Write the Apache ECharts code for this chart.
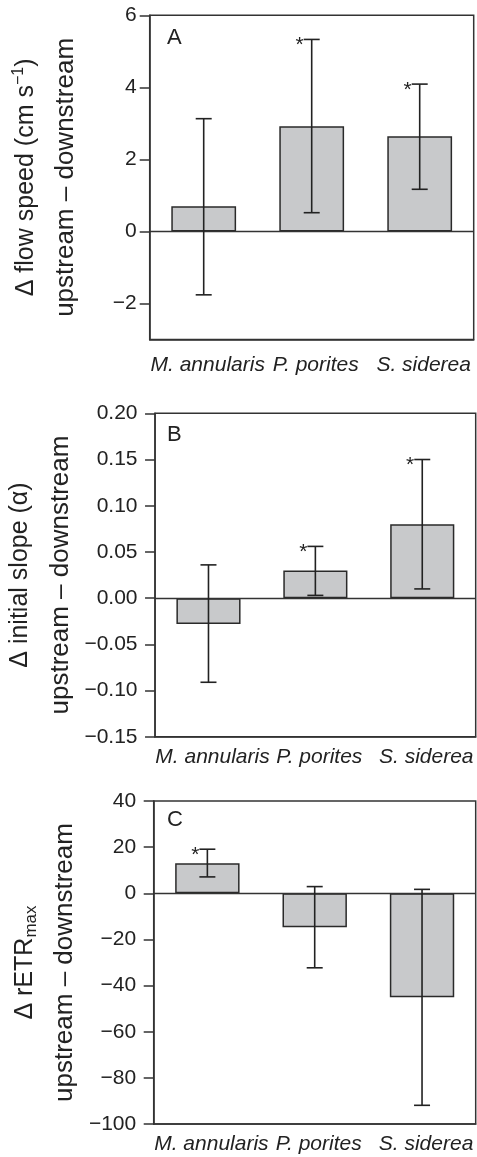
<!DOCTYPE html>
<html>
<head>
<meta charset="utf-8">
<script src="https://cdn.jsdelivr.net/npm/echarts@6/dist/echarts.min.js"></script>
<style>
  html, body { margin: 0; padding: 0; background: #fff; }
  #chart { width: 477px; height: 1157px; }
</style>
</head>
<body>
<div id="chart"></div>
<script>
// ---- Data ----
const categories = ['M. annularis', 'P. porites', 'S. siderea'];

// Panel A: flow speed difference
const flowMean = [0.70, 2.92, 2.64];
const flowLow  = [-1.76, 0.52, 1.17];
const flowHigh = [3.13, 5.33, 4.09];
const flowSig  = [0, 1, 1];
const flowTicks = [-2, 0, 2, 4, 6];

// Panel B: initial slope difference
const slopeMean = [-0.028, 0.030, 0.080];
const slopeLow  = [-0.091, 0.003, 0.010];
const slopeHigh = [0.036, 0.056, 0.150];
const slopeSig  = [0, 1, 1];
const slopeTicks = [-0.15, -0.10, -0.05, 0, 0.05, 0.10, 0.15, 0.20];

// Panel C: rETRmax difference
const etrMean = [13.0, -14.7, -45.1];
const etrLow  = [7.1, -32.3, -91.9];
const etrHigh = [19.1, 2.9, 1.7];
const etrSig  = [1, 0, 0];
const etrTicks = [-100, -80, -60, -40, -20, 0, 20, 40];

const panelLetters = ['A', 'B', 'C'];
const yNames = [
  '{t|Δ flow speed (cm s}{sup|−1}{t|)}\n{u|upstream – downstream}',
  '{t|Δ initial slope (α)}\n{u|upstream – downstream}',
  '{t|Δ rETR}{sub|max}\n{u|upstream – downstream}'
];

// ---- Styling / layout ----
const FONT = "'Liberation Sans', Arial, Helvetica, sans-serif";
const INK = '#222';
const AXIS = '#333';
const panels = [
  { mean: flowMean, low: flowLow, high: flowHigh, sig: flowSig, ticks: flowTicks, min: -3, max: 6, dec: 0,
    grid: { left: 149.7, top: 15.3, width: 324, height: 324.2 }, labelMargin: 13, nameGap: 64, xMargin: 15, letterY: 27 },
  { mean: slopeMean, low: slopeLow, high: slopeHigh, sig: slopeSig, ticks: slopeTicks, min: -0.15, max: 0.20, dec: 2,
    grid: { left: 153.7, top: 413.3, width: 322, height: 323.5 }, labelMargin: 17.5, nameGap: 68, xMargin: 10, letterY: 424 },
  { mean: etrMean, low: etrLow, high: etrHigh, sig: etrSig, ticks: etrTicks, min: -100, max: 40, dec: 0,
    grid: { left: 153.7, top: 801, width: 322, height: 323 }, labelMargin: 17.5, nameGap: 68, xMargin: 10, letterY: 809 }
];

function fmt(v, dec) {
  const s = Math.abs(v).toFixed(dec);
  return (v < -1e-9 ? '−' : '') + s;
}

function renderErr(params, api) {
  const c = api.value(0);
  const lo = api.coord([c, api.value(1)]);
  const hi = api.coord([c, api.value(2)]);
  const cap = 8;
  const st = { stroke: INK, lineWidth: 1.6, fill: null };
  const children = [
    { type: 'line', shape: { x1: lo[0], y1: lo[1], x2: hi[0], y2: hi[1] }, style: st },
    { type: 'line', shape: { x1: lo[0] - cap, y1: lo[1], x2: lo[0] + cap, y2: lo[1] }, style: st },
    { type: 'line', shape: { x1: hi[0] - cap, y1: hi[1], x2: hi[0] + cap, y2: hi[1] }, style: st }
  ];
  if (api.value(3)) {
    children.push({
      type: 'text', x: hi[0] - 8, y: hi[1] + 6,
      style: { text: '*', fill: INK, fontSize: 21, fontFamily: FONT, align: 'right', verticalAlign: 'middle' }
    });
  }
  return { type: 'group', children };
}

const grid = [], xAxis = [], yAxis = [], series = [], graphic = [];
panels.forEach((p, i) => {
  grid.push(Object.assign({ show: true, borderColor: AXIS, borderWidth: 1.5, backgroundColor: 'transparent' }, p.grid));
  xAxis.push({
    type: 'category', gridIndex: i, data: categories,
    axisLine: { onZero: false, lineStyle: { color: AXIS, width: 1.5 } },
    axisTick: { alignWithLabel: true, length: 7, lineStyle: { color: AXIS, width: 1.5 } },
    axisLabel: { color: INK, fontSize: 21, fontStyle: 'italic', fontFamily: FONT, margin: p.xMargin, padding: [0, 0, 0, 8], interval: 0 },
    splitLine: { show: false }
  });
  yAxis.push({
    type: 'value', gridIndex: i, min: p.min, max: p.max,
    name: yNames[i], nameLocation: 'middle', nameRotate: 90, nameGap: p.nameGap,
    nameTextStyle: {
      rich: {
        t: { fontSize: 25, fontFamily: FONT, color: INK, lineHeight: 40 },
        u: { fontSize: 26, fontFamily: FONT, color: INK, lineHeight: 40 },
        sup: { fontSize: 16, fontFamily: FONT, color: INK, lineHeight: 40, padding: [0, 0, 14, 0] },
        sub: { fontSize: 17, fontFamily: FONT, color: INK, lineHeight: 40, padding: [12, 0, 0, 0] }
      }
    },
    axisLine: { show: true, lineStyle: { color: AXIS, width: 1.5 } },
    axisTick: { show: true, length: 10, customValues: p.ticks, lineStyle: { color: AXIS, width: 1.5 } },
    axisLabel: { color: INK, fontSize: 21, fontFamily: FONT, margin: p.labelMargin, customValues: p.ticks,
                 formatter: (v) => fmt(v, p.dec) },
    splitLine: { show: false }
  });
  series.push({
    type: 'bar', xAxisIndex: i, yAxisIndex: i, data: p.mean, barWidth: '60%',
    itemStyle: { color: '#c8c9cb', borderColor: '#2a2a2a', borderWidth: 1.5 },
    animation: false, silent: true,
    markLine: {
      silent: true, symbol: ['none', 'none'], label: { show: false }, animation: false,
      lineStyle: { color: AXIS, width: 1.3, type: 'solid' },
      data: [{ yAxis: 0 }]
    }
  });
  series.push({
    type: 'custom', xAxisIndex: i, yAxisIndex: i, renderItem: renderErr,
    encode: { x: 0, y: [1, 2] }, animation: false, silent: true, z: 5,
    data: categories.map((c, k) => [k, p.low[k], p.high[k], p.sig[k]])
  });
  graphic.push({
    type: 'text', left: 167, top: p.letterY, silent: true,
    style: { text: panelLetters[i], fontSize: 22, fontFamily: FONT, fill: INK }
  });
});

const chart = echarts.init(document.getElementById('chart'), null, { renderer: 'canvas' });
chart.setOption({
  backgroundColor: '#fff',
  animation: false,
  grid, xAxis, yAxis, series, graphic
});
</script>
</body>
</html>
